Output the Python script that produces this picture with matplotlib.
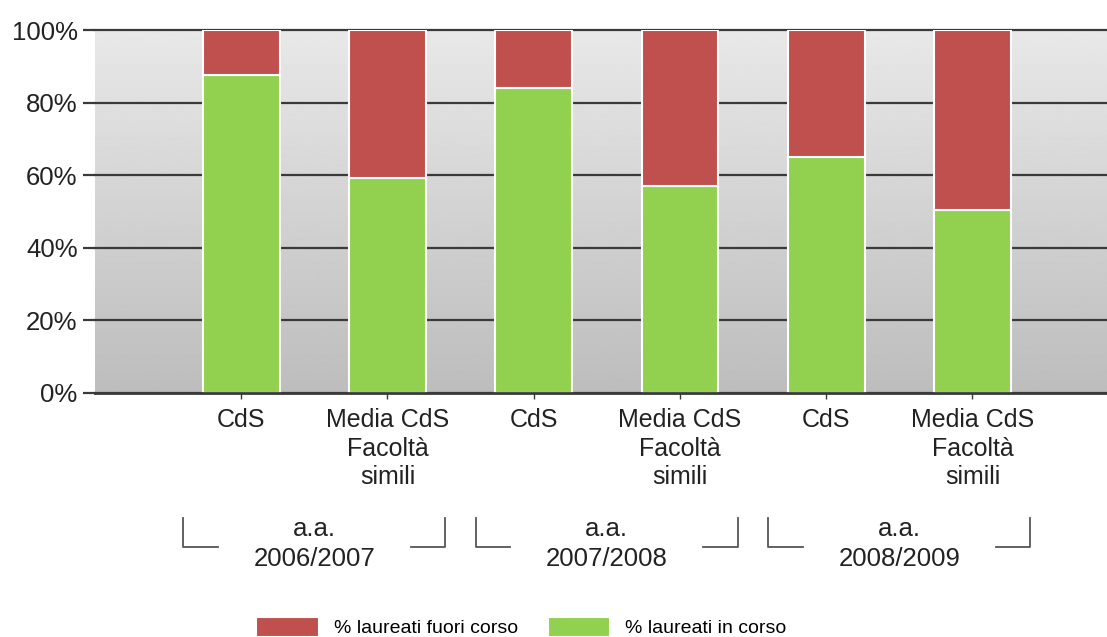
import numpy as np
import matplotlib
matplotlib.use('Agg')
import matplotlib.pyplot as plt
from matplotlib.transforms import blended_transform_factory

plt.rcParams['font.family'] = ['Liberation Sans', 'DejaVu Sans']

# data
bar_labels = ['CdS', 'Media CdS\nFacoltà\nsimili'] * 3
years = ['a.a.\n2006/2007', 'a.a.\n2007/2008', 'a.a.\n2008/2009']
in_corso = [87.5, 59.2, 84.0, 57.0, 65.0, 50.5]
fuori_corso = [100 - v for v in in_corso]
red = '#c0504d'
green = '#92d050'
grid_col = '#3a3a3a'
txt_col = '#222222'

fig = plt.figure(figsize=(11.07, 6.37), dpi=100)
ax = fig.add_axes([95 / 1107, 1 - 393 / 637, 1012 / 1107, 363 / 637])

x = np.arange(len(in_corso))
ax.set_xlim(-1.0, 5.92)
ax.set_ylim(0, 100)

# gradient background
grad = np.linspace(0.91, 0.74, 256).reshape(-1, 1)
ax.imshow(grad, cmap='gray', vmin=0, vmax=1, aspect='auto',
          extent=[-1.0, 5.92, 0, 100], origin='upper', zorder=0)

b1 = ax.bar(x, in_corso, width=0.525, color=green, edgecolor='white',
            linewidth=1.5, zorder=2, label='% laureati in corso')
b2 = ax.bar(x, fuori_corso, bottom=in_corso, width=0.525, color=red,
            edgecolor='white', linewidth=1.5, zorder=2,
            label='% laureati fuori corso')

ax.set_yticks(np.arange(0, 101, 20))
ax.set_yticklabels([f'{v}%' for v in range(0, 101, 20)], fontsize=18.5, color=txt_col)
ax.yaxis.grid(True, color=grid_col, linewidth=1.6, zorder=1)
for gl in ax.get_ygridlines():
    gl.set_zorder(1)
    gl.set_clip_on(False)
ax.tick_params(axis='y', length=8.5, width=1.6, color=grid_col, pad=4)

ax.set_xticks(x)
ax.set_xticklabels(bar_labels, fontsize=18, color=txt_col, linespacing=1.24)
ax.tick_params(axis='x', length=4, width=1, color=grid_col, pad=7)

for s in ['top', 'right', 'left']:
    ax.spines[s].set_visible(False)
ax.spines['bottom'].set_color(grid_col)
ax.spines['bottom'].set_linewidth(2)
ax.spines['bottom'].set_zorder(3)

# group brackets
tr = blended_transform_factory(ax.transData, fig.transFigure)
y_top = 1 - 518 / 637
y_bot = 1 - 547 / 637
for i, lab in enumerate(years):
    c = 2 * i + 0.5
    ax.plot([c - 0.895, c - 0.895, c - 0.66], [y_top, y_bot, y_bot],
            transform=tr, color='#555555', lw=1.3, clip_on=False)
    ax.plot([c + 0.66, c + 0.895, c + 0.895], [y_bot, y_bot, y_top],
            transform=tr, color='#555555', lw=1.3, clip_on=False)
    ax.text(c, 1 - 544 / 637, lab, transform=tr, ha='center', va='center',
            fontsize=18.5, color=txt_col, linespacing=1.29)

fig.legend(handles=[b2, b1], loc='center', bbox_to_anchor=(0.471, 1 - 627 / 637),
           ncol=2, frameon=False, fontsize=14, handlelength=3.2, handleheight=1.2,
           handletextpad=0.77, columnspacing=1.55, borderpad=0)

fig.savefig('out.png', dpi=100, facecolor='white')
